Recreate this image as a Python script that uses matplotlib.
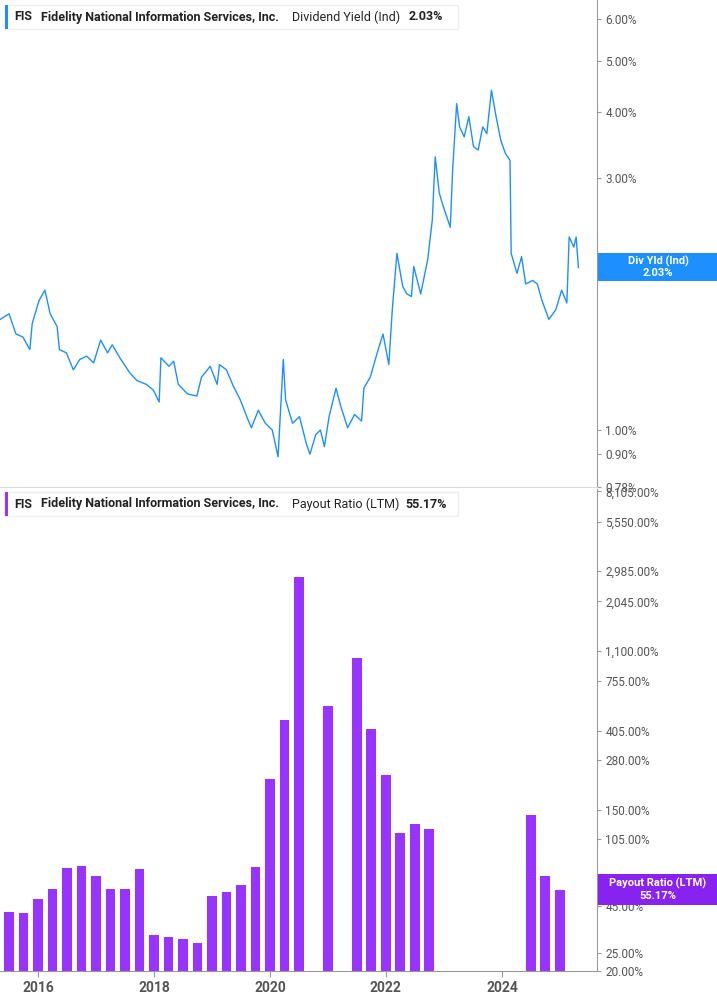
import matplotlib; matplotlib.use("Agg")
import matplotlib.pyplot as plt
from matplotlib.ticker import FixedLocator, NullLocator, NullFormatter
from matplotlib.patches import Rectangle

plt.rcParams["font.family"] = "Roboto"

# Dividend yield (indicated), %
yld_dates = [2015.35, 2015.50, 2015.62, 2015.74, 2015.86, 2015.90, 2016.02, 2016.12, 2016.21, 2016.33,
             2016.37, 2016.49, 2016.61, 2016.72, 2016.84, 2016.96, 2017.08, 2017.20, 2017.28, 2017.43,
             2017.59, 2017.71, 2017.87, 2017.99, 2018.09, 2018.12, 2018.26, 2018.34, 2018.42, 2018.58,
             2018.74, 2018.82, 2018.97, 2019.09, 2019.13, 2019.25, 2019.37, 2019.49, 2019.60, 2019.68,
             2019.80, 2019.92, 2020.04, 2020.14, 2020.23, 2020.27, 2020.39, 2020.51, 2020.63, 2020.69,
             2020.79, 2020.87, 2020.94, 2021.02, 2021.14, 2021.22, 2021.34, 2021.46, 2021.58, 2021.62,
             2021.73, 2021.85, 2021.95, 2022.05, 2022.11, 2022.19, 2022.29, 2022.36, 2022.44, 2022.48,
             2022.60, 2022.72, 2022.80, 2022.85, 2022.92, 2022.99, 2023.11, 2023.15, 2023.22, 2023.27,
             2023.35, 2023.43, 2023.51, 2023.59, 2023.67, 2023.74, 2023.82, 2023.90, 2023.98, 2024.06,
             2024.14, 2024.16, 2024.26, 2024.34, 2024.41, 2024.53, 2024.61, 2024.69, 2024.81, 2024.93,
             2025.03, 2025.12, 2025.16, 2025.24, 2025.28, 2025.32]
yld_vals = [1.62, 1.66, 1.52, 1.50, 1.42, 1.59, 1.76, 1.84, 1.66, 1.57,
            1.42, 1.40, 1.30, 1.36, 1.38, 1.34, 1.48, 1.40, 1.45, 1.36,
            1.28, 1.24, 1.22, 1.19, 1.13, 1.37, 1.32, 1.35, 1.22, 1.17,
            1.16, 1.26, 1.32, 1.22, 1.33, 1.30, 1.21, 1.14, 1.06, 1.01,
            1.09, 1.03, 1.00, 0.89, 1.36, 1.14, 1.03, 1.06, 0.94, 0.90,
            0.98, 1.00, 0.93, 1.06, 1.20, 1.11, 1.01, 1.07, 1.04, 1.20,
            1.26, 1.40, 1.52, 1.33, 1.69, 2.16, 1.87, 1.81, 1.79, 2.04,
            1.81, 2.10, 2.50, 3.29, 2.81, 2.65, 2.42, 3.10, 4.15, 3.75,
            3.59, 3.92, 3.44, 3.39, 3.75, 3.64, 4.40, 3.92, 3.54, 3.34,
            3.24, 2.16, 1.98, 2.13, 1.89, 1.92, 1.89, 1.76, 1.62, 1.69,
            1.84, 1.74, 2.32, 2.22, 2.32, 2.03]

# Payout ratio (LTM), % -- quarterly, None = no value
pay_dates = [2015.50 + 0.25 * i for i in range(39)]
pay_vals = [41.7, 41.2, 49.2, 56.0, 73.0, 74.0, 66.0, 55.6, 55.6, 71.5,
            31.3, 30.6, 29.7, 28.4, 51.0, 53.8, 58.6, 73.8, 222, 462,
            2760, None, 549, None, 1005, 412, 232, 112, 126, 119,
            None, None, None, None, None, None, 141, 65.5, 55.17]

yld_ticks = [0.78, 0.90, 1.00, 2.00, 3.00, 4.00, 5.00, 6.00]
pay_ticks = [20, 25, 45, 55, 105, 150, 280, 405, 755, 1100, 2045, 2985, 5550, 8105]
year_ticks = [2016, 2018, 2020, 2022, 2024]

BLUE = "#1e8fff"
PURPLE = "#9933ff"
GREY = "#555555"
W, H = 717, 1005
XL = (2015.345, 2025.64)

fig = plt.figure(figsize=(W / 100, H / 100), dpi=100)
ax1 = fig.add_axes([0, (H - 487) / H, 597 / W, 487 / H])
ax2 = fig.add_axes([0, (H - 971) / H, 597 / W, (971 - 489) / H])

def style(ax):
    ax.set_yscale("log")
    ax.yaxis.tick_right()
    ax.yaxis.set_minor_locator(NullLocator())
    ax.yaxis.set_minor_formatter(NullFormatter())
    for s in ("top", "left"):
        ax.spines[s].set_visible(False)
    ax.spines["right"].set_color("#999999")
    ax.tick_params(axis="y", length=3, color="#999999", labelcolor=GREY, labelsize=8.5, pad=3)
    ax.set_xlim(*XL)

style(ax1)
ax1.plot(yld_dates, yld_vals, color=BLUE, lw=1)
ax1.set_ylim(0.78, 6.52)
ax1.yaxis.set_major_locator(FixedLocator(yld_ticks))
ax1.set_yticklabels([f"{t:.2f}%" for t in yld_ticks])
ax1.spines["bottom"].set_color("#dddddd")
ax1.set_xticks([])

style(ax2)
bx = [d for d, v in zip(pay_dates, pay_vals) if v is not None]
bv = [v for v in pay_vals if v is not None]
ax2.bar(bx, [v - 20 for v in bv], bottom=20, width=0.17, color=PURPLE)
ax2.set_ylim(20, 8340)
ax2.yaxis.set_major_locator(FixedLocator(pay_ticks))
ax2.set_yticklabels([f"{t:,.2f}%" for t in pay_ticks])
ax2.spines["bottom"].set_color("#999999")
ax2.set_xticks(year_ticks)
ax2.set_xticklabels([str(y) for y in year_ticks])
ax2.tick_params(axis="x", length=4, color="#999999", labelcolor=GREY, labelsize=10)
for lab in ax2.get_xticklabels():
    lab.set_fontweight("bold")

# legend boxes
def legend(y0, color, label, value, vx):
    fig.patches.append(Rectangle((5 / W, 1 - (y0 + 24) / H), 453 / W, 24 / H, transform=fig.transFigure,
                                 facecolor="white", edgecolor="#eeeeee", lw=1, zorder=5))
    fig.patches.append(Rectangle((5 / W, 1 - (y0 + 24) / H), 3 / W, 24 / H, transform=fig.transFigure,
                                 facecolor=color, edgecolor="none", zorder=6))
    ty = 1 - (y0 + 12) / H
    fig.text(14 / W, ty, "FIS", fontsize=9, fontweight="bold", color="#222", va="center", zorder=7)
    fig.text(41 / W, ty, "Fidelity National Information Services, Inc.", fontsize=9, fontweight="bold",
             color="#222", va="center", zorder=7)
    fig.text(292 / W, ty, label, fontsize=9, color="#222", va="center", zorder=7)
    fig.text(vx / W, ty, value, fontsize=9, fontweight="bold", color="#222", va="center", zorder=7)

legend(5, BLUE, "Dividend Yield (Ind)", "2.03%", 409)
legend(492, PURPLE, "Payout Ratio (LTM)", "55.17%", 405)

# right-side value badges
def badge(y0, y1, color, t1, t2):
    fig.patches.append(Rectangle((598 / W, 1 - y1 / H), 119 / W, (y1 - y0) / H, transform=fig.transFigure,
                                 facecolor=color, edgecolor="none", zorder=5))
    cy = 1 - (y0 + y1) / 2 / H
    fig.text(658 / W, cy + 6 / H, t1, fontsize=8, fontweight="bold", color="white", ha="center", va="center", zorder=6)
    fig.text(658 / W, cy - 6 / H, t2, fontsize=8, fontweight="bold", color="white", ha="center", va="center", zorder=6)

badge(253, 281, BLUE, "Div Yld (Ind)", "2.03%")
badge(874, 905, "#8822ee", "Payout Ratio (LTM)", "55.17%")

fig.savefig("out.png", dpi=100)
